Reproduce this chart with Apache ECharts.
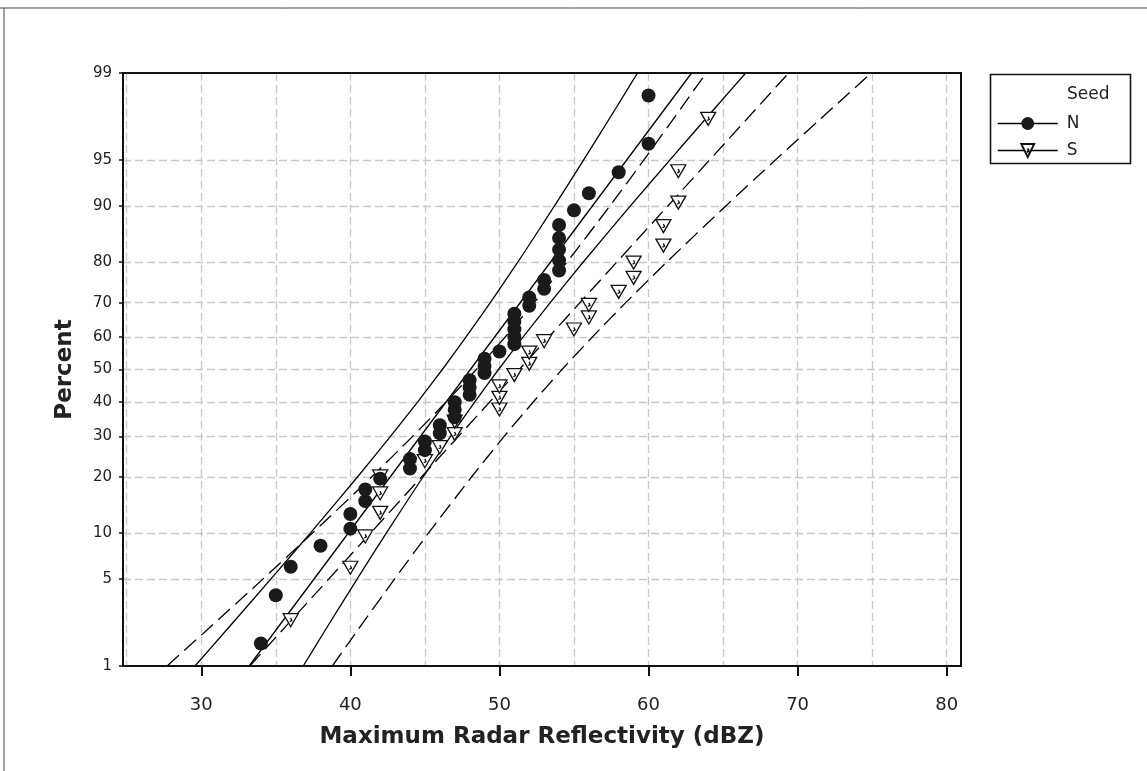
<!DOCTYPE html>
<html>
<head>
<meta charset="utf-8">
<script src="https://cdn.jsdelivr.net/npm/echarts@6/dist/echarts.min.js"></script>
<style>html,body{margin:0;padding:0;background:#fff}#c{width:1147px;height:771px}</style>
</head>
<body>
<div id="c"></div>
<script>
// ---- data ----
const nValues = [34,35,36,38,40,40,41,41,42,44,44,45,45,46,46,47,47,47,48,48,48,49,49,49,50,51,51,51,51,51,52,52,53,53,54,54,54,54,54,55,56,58,60,60];
const nPercent = [1.58,3.83,6.08,8.33,10.59,12.84,15.09,17.34,19.59,21.85,24.10,26.35,28.60,30.86,33.11,35.36,37.61,39.86,42.12,44.37,46.62,48.87,51.13,53.38,55.63,57.88,60.14,62.39,64.64,66.89,69.14,71.40,73.65,75.90,78.15,80.41,82.66,84.91,87.16,89.41,91.67,93.92,96.17,98.42];
const sValues = [36,40,41,42,42,42,45,46,47,47,50,50,50,51,52,52,53,55,56,56,58,59,59,61,61,62,62,64];
const sPercent = [2.46,5.99,9.51,13.03,16.55,20.07,23.59,27.11,30.63,34.15,37.68,41.20,44.72,48.24,51.76,55.28,58.80,62.32,65.85,69.37,72.89,76.41,79.93,83.45,86.97,90.49,94.01,97.54];
const fitLevels = [1, 99];
const nFit = [33.21, 62.89];
const sFit = [33.25, 69.40];
const ciLevels = [1, 2, 5, 10, 20, 30, 40, 50, 60, 70, 80, 90, 95, 98, 99];
const nLower = [29.58, 31.62, 34.66, 37.33, 40.49, 42.69, 44.52, 46.17, 47.75, 49.39, 51.23, 53.68, 55.65, 57.83, 59.26];
const nUpper = [36.84, 38.27, 40.45, 42.42, 44.88, 46.72, 48.35, 49.94, 51.58, 53.41, 55.61, 58.77, 61.44, 64.48, 66.52];
const sLower = [27.71, 30.29, 34.13, 37.48, 41.44, 44.18, 46.43, 48.45, 50.37, 52.33, 54.52, 57.40, 59.69, 62.21, 63.86];
const sUpper = [38.79, 40.44, 42.96, 45.25, 48.14, 50.32, 52.28, 54.20, 56.22, 58.47, 61.21, 65.17, 68.52, 72.36, 74.94];
const yTickLabels = [1, 5, 10, 20, 30, 40, 50, 60, 70, 80, 90, 95, 99];
const xTickLabels = [30, 40, 50, 60, 70, 80];
const xGridValues = [25, 30, 35, 40, 45, 50, 55, 60, 65, 70, 75, 80];

// ---- normal probability scale (inverse normal CDF) ----
function probit(p){
  const a=[-3.969683028665376e+01,2.209460984245205e+02,-2.759285104469687e+02,1.383577518672690e+02,-3.066479806614716e+01,2.506628277459239e+00];
  const b=[-5.447609879822406e+01,1.615858368580409e+02,-1.556989798598866e+02,6.680131188771972e+01,-1.328068155288572e+01];
  const c=[-7.784894002430293e-03,-3.223964580411365e-01,-2.400758277161838e+00,-2.549732539343734e+00,4.374664141464968e+00,2.938163982698783e+00];
  const d=[7.784695709041462e-03,3.224671290700398e-01,2.445134137142996e+00,3.754408661907416e+00];
  const pl=0.02425, ph=1-pl; let q,r;
  if(p<pl){q=Math.sqrt(-2*Math.log(p));return (((((c[0]*q+c[1])*q+c[2])*q+c[3])*q+c[4])*q+c[5])/((((d[0]*q+d[1])*q+d[2])*q+d[3])*q+1);}
  if(p<=ph){q=p-0.5;r=q*q;return (((((a[0]*r+a[1])*r+a[2])*r+a[3])*r+a[4])*r+a[5])*q/(((((b[0]*r+b[1])*r+b[2])*r+b[3])*r+b[4])*r+1);}
  q=Math.sqrt(-2*Math.log(1-p));return -(((((c[0]*q+c[1])*q+c[2])*q+c[3])*q+c[4])*q+c[5])/((((d[0]*q+d[1])*q+d[2])*q+d[3])*q+1);
}
const z = pct => probit(pct/100);
const yTickZ = yTickLabels.map(z);
const yGridZ = yTickZ.slice(1, -1);
const pairs = (xs, ps) => xs.map((v,i)=>[v, z(ps[i])]);

const FONT = 'DejaVu Sans';
const chart = echarts.init(document.getElementById('c'), null, {renderer:'canvas'});
const lineBase = {type:'line', showSymbol:false, symbol:'none', silent:true, z:2, animation:false, xAxisIndex:0, yAxisIndex:0};
const solid = {color:'#000', width:1.3, type:'solid'};
const dashed = {color:'#000', width:1.3, type:[16,7]};
const triPath = 'path://M0,0 L14,0 L7,12 Z M7,4 L8,6.5 L6,7.5';
const gridLine = {show:true, lineStyle:{color:'#c8c8c8', width:1.3, type:[8,4]}};
const frameLine = {show:true, onZero:false, lineStyle:{color:'#111', width:2}};

chart.setOption({
  animation:false,
  backgroundColor:'#fff',
  grid:{left:123, right:186, top:73, bottom:105, show:false},
  xAxis:[{
    type:'value', min:24.75, max:80.96, position:'bottom',
    name:'Maximum Radar Reflectivity (dBZ)', nameLocation:'middle', nameGap:60,
    nameTextStyle:{fontFamily:FONT, fontWeight:'bold', fontSize:23, color:'#222'},
    axisLine:frameLine,
    axisTick:{show:true, inside:false, length:10, customValues:xTickLabels, lineStyle:{color:'#111', width:2}},
    axisLabel:{show:true, customValues:xTickLabels, margin:30, fontFamily:FONT, fontSize:18, color:'#222'},
    splitLine:{show:false}, z:3
  },{
    type:'value', min:24.75, max:80.96, position:'bottom',
    axisLine:{show:false}, axisLabel:{show:false},
    axisTick:{show:false, customValues:xGridValues},
    splitLine:gridLine, z:0
  },{
    type:'value', min:24.75, max:80.96, position:'top',
    axisLine:frameLine, axisLabel:{show:false}, axisTick:{show:false}, splitLine:{show:false}, z:3
  }],
  yAxis:[{
    type:'value', min:z(1), max:z(99), position:'left',
    name:'Percent', nameLocation:'middle', nameGap:46, nameRotate:90,
    nameTextStyle:{fontFamily:FONT, fontWeight:'bold', fontSize:23, color:'#222'},
    axisLine:frameLine,
    axisTick:{show:true, length:4, customValues:yTickZ, lineStyle:{color:'#111', width:1.5}},
    axisLabel:{show:true, customValues:yTickZ, margin:11, fontFamily:FONT, fontSize:15, color:'#222',
      formatter: v => { let best=0, bd=1e9; yTickZ.forEach((t,i)=>{const dd=Math.abs(t-v); if(dd<bd){bd=dd;best=i;}}); return String(yTickLabels[best]); }},
    splitLine:{show:false}, z:3
  },{
    type:'value', min:z(1), max:z(99), position:'left',
    axisLine:{show:false}, axisLabel:{show:false},
    axisTick:{show:false, customValues:yGridZ},
    splitLine:gridLine, z:0
  },{
    type:'value', min:z(1), max:z(99), position:'right',
    axisLine:frameLine, axisLabel:{show:false}, axisTick:{show:false}, splitLine:{show:false}, z:3
  }],
  legend:{
    show:true, orient:'vertical', left:997, top:115, padding:0, itemWidth:60, itemHeight:16, itemGap:10,
    data:['N','S'], selectedMode:false,
    textStyle:{fontFamily:FONT, fontSize:17, color:'#222', padding:[0,0,0,4]},
    lineStyle:{color:'#000', width:1.5, opacity:1, type:'solid'}
  },
  graphic:[
    {type:'rect', left:988, top:72, shape:{width:140, height:89}, style:{fill:'none', stroke:'#111', lineWidth:1.6}, silent:true},
    {type:'text', left:1067, top:86, style:{text:'Seed', fontFamily:FONT, fontSize:17, fill:'#222'}, silent:true},
    {type:'line', shape:{x1:0, y1:8, x2:1147, y2:8}, style:{stroke:'#444', lineWidth:1}, silent:true},
    {type:'line', shape:{x1:4, y1:8, x2:4, y2:771}, style:{stroke:'#444', lineWidth:1}, silent:true}
  ],
  series:[
    Object.assign({}, lineBase, {name:'nFit', data:pairs(nFit, fitLevels), lineStyle:solid}),
    Object.assign({}, lineBase, {name:'nLow', data:pairs(nLower, ciLevels), lineStyle:solid, smooth:0.2}),
    Object.assign({}, lineBase, {name:'nUp', data:pairs(nUpper, ciLevels), lineStyle:solid, smooth:0.2}),
    Object.assign({}, lineBase, {name:'sFit', data:pairs(sFit, fitLevels), lineStyle:dashed}),
    Object.assign({}, lineBase, {name:'sLow', data:pairs(sLower, ciLevels), lineStyle:dashed, smooth:0.2}),
    Object.assign({}, lineBase, {name:'sUp', data:pairs(sUpper, ciLevels), lineStyle:dashed, smooth:0.2}),
    {name:'S', type:'line', data:pairs(sValues, sPercent), symbol:triPath, symbolSize:[15,13], showSymbol:true,
      lineStyle:{opacity:0, width:0}, itemStyle:{color:'#fff', borderColor:'#111', borderWidth:1.3}, z:4, silent:true, animation:false},
    {name:'N', type:'line', data:pairs(nValues, nPercent), symbol:'circle', symbolSize:14, showSymbol:true,
      lineStyle:{opacity:0, width:0}, itemStyle:{color:'#1a1a1a', borderColor:'#1a1a1a', borderWidth:0}, z:5, silent:true, animation:false}
  ]
});
</script>
</body>
</html>
